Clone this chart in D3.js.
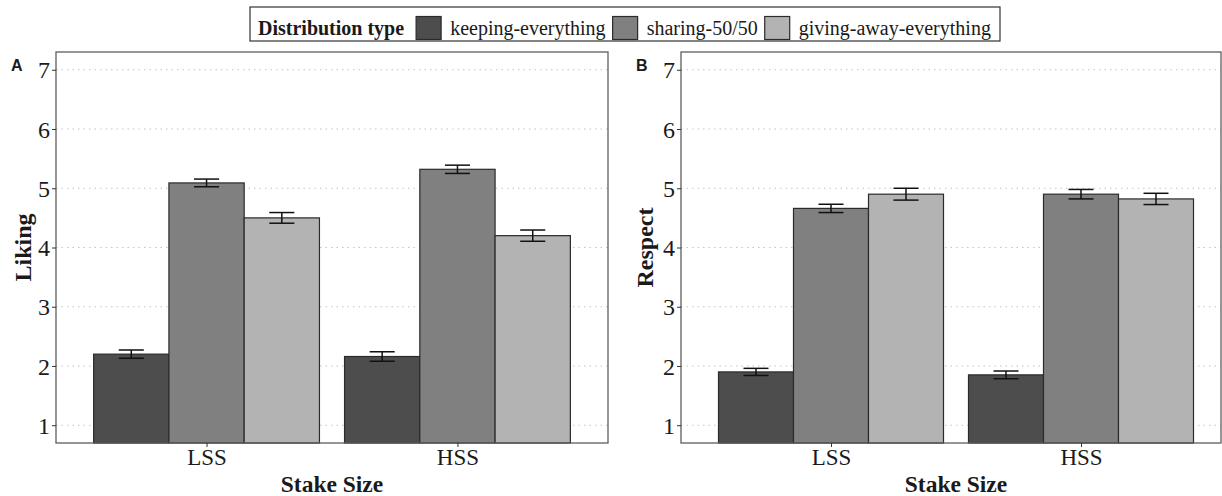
<!DOCTYPE html>
<html>
<head>
<meta charset="utf-8">
<script src="https://cdn.jsdelivr.net/npm/d3@7"></script>
<style>
  body { margin: 0; background: #fff; }
  svg { display: block; }
  text { fill: #1a1a1a; }
</style>
</head>
<body>
<svg id="chart" width="1222" height="496"></svg>
<script>
// Stake-size conditions and distribution types
const stakes = ["LSS", "HSS"];
const types = ["keeping-everything", "sharing-50/50", "giving-away-everything"];
const typeColors = ["#4d4d4d", "#808080", "#b3b3b3"];
const yTicks = [1, 2, 3, 4, 5, 6, 7];

// Liking means and standard errors (rows: LSS, HSS; columns: distribution type)
const likingMean = [[2.20, 5.09, 4.50], [2.16, 5.32, 4.20]];
const likingSE   = [[0.07, 0.065, 0.09], [0.08, 0.07, 0.095]];

// Respect means and standard errors
const respectMean = [[1.90, 4.66, 4.90], [1.85, 4.90, 4.82]];
const respectSE   = [[0.06, 0.07, 0.10], [0.065, 0.08, 0.095]];

const SERIF = "'Liberation Serif', 'Times New Roman', serif";
const SANS = "'Liberation Sans', Arial, sans-serif";

const svg = d3.select("#chart");

function panel(opts) {
  const { left, right, frameRight, top, bottom, means, ses, yTitle, tag, titleX, tagX } = opts;
  const g = svg.append("g");

  const y = d3.scaleLinear().domain([0.7, 7.3]).range([bottom, top]);
  // discrete positions 1 and 2, expanded by 0.6 on each side
  const xc = d3.scaleLinear().domain([0.4, 2.6]).range([left, right]);
  const unit = xc(2) - xc(1);
  const groupW = 0.9 * unit;
  const xi = d3.scaleBand().domain(types).range([-groupW / 2, groupW / 2]).padding(0);

  // gridlines
  g.selectAll("line.grid").data(yTicks).join("line")
    .attr("x1", left).attr("x2", frameRight)
    .attr("y1", d => y(d)).attr("y2", d => y(d))
    .attr("stroke", "#c4c4c4").attr("stroke-width", 1.1)
    .attr("stroke-dasharray", "1.5,4");

  const cells = [];
  stakes.forEach((s, i) => types.forEach((t, j) => cells.push({
    s, t, j, cx: xc(i + 1), m: means[i][j], se: ses[i][j]
  })));

  // bars
  g.selectAll("rect.bar").data(cells).join("rect")
    .attr("x", d => d.cx + xi(d.t))
    .attr("width", xi.bandwidth())
    .attr("y", d => y(d.m))
    .attr("height", d => bottom - y(d.m))
    .attr("fill", d => typeColors[d.j])
    .attr("stroke", "#2b2b2b").attr("stroke-width", 1.2);

  // error bars (mean ± SE)
  const capHalf = xi.bandwidth() / 6;
  const mid = d => d.cx + xi(d.t) + xi.bandwidth() / 2;
  const eb = g.selectAll("g.eb").data(cells).join("g")
    .attr("stroke", "#111").attr("stroke-width", 1.5);
  eb.append("line")
    .attr("x1", mid).attr("x2", mid)
    .attr("y1", d => y(d.m + d.se)).attr("y2", d => y(d.m - d.se));
  eb.append("line")
    .attr("x1", d => mid(d) - capHalf).attr("x2", d => mid(d) + capHalf)
    .attr("y1", d => y(d.m + d.se)).attr("y2", d => y(d.m + d.se));
  eb.append("line")
    .attr("x1", d => mid(d) - capHalf).attr("x2", d => mid(d) + capHalf)
    .attr("y1", d => y(d.m - d.se)).attr("y2", d => y(d.m - d.se));

  // panel border
  g.append("rect")
    .attr("x", left).attr("y", top)
    .attr("width", frameRight - left).attr("height", bottom - top)
    .attr("fill", "none").attr("stroke", "#5e5e5e").attr("stroke-width", 1.3);

  // y axis
  const ya = g.append("g").attr("transform", `translate(${left},0)`)
    .call(d3.axisLeft(y).tickValues(yTicks).tickSize(4).tickPadding(2).tickFormat(d3.format("d")));
  ya.select(".domain").remove();
  ya.selectAll(".tick line").attr("stroke", "#333");
  ya.selectAll(".tick text").attr("font-size", 24).attr("fill", "#222")
    .attr("font-family", SERIF).attr("dy", "0.34em");

  // x axis
  const xa = g.append("g").attr("transform", `translate(0,${bottom})`)
    .call(d3.axisBottom(xc).tickValues([1, 2]).tickSize(4).tickPadding(2)
      .tickFormat(d => stakes[d - 1]));
  xa.select(".domain").remove();
  xa.selectAll(".tick line").attr("stroke", "#333");
  xa.selectAll(".tick text").attr("font-size", 23).attr("fill", "#222")
    .attr("font-family", SERIF);

  // axis titles
  g.append("text")
    .attr("x", (left + right) / 2).attr("y", 492)
    .attr("text-anchor", "middle")
    .attr("font-family", SERIF)
    .attr("font-size", 23.5).attr("font-weight", "bold")
    .text("Stake Size");
  g.append("text")
    .attr("transform", `translate(${titleX},${(top + bottom) / 2}) rotate(-90)`)
    .attr("text-anchor", "middle")
    .attr("font-family", SERIF)
    .attr("font-size", 24).attr("font-weight", "bold")
    .text(yTitle);

  // panel tag
  g.append("text")
    .attr("x", tagX).attr("y", 71)
    .attr("font-family", SANS)
    .attr("font-size", 16).attr("font-weight", "bold")
    .text(tag);
}

panel({ left: 56, right: 608, frameRight: 608, top: 52, bottom: 443, means: likingMean, ses: likingSE,
        yTitle: "Liking", tag: "A", titleX: 31, tagX: 11 });
// the right panel is trimmed at the page's right edge
panel({ left: 681, right: 1231, frameRight: 1221, top: 52, bottom: 443, means: respectMean, ses: respectSE,
        yTitle: "Respect", tag: "B", titleX: 653, tagX: 636 });

// legend
const leg = svg.append("g");
leg.append("rect")
  .attr("x", 250).attr("y", 7).attr("width", 750).attr("height", 34)
  .attr("fill", "#fff").attr("stroke", "#333").attr("stroke-width", 1.2);
const legTitle = leg.append("text")
  .attr("x", 258).attr("y", 35)
  .attr("font-family", SERIF)
  .attr("font-size", 20).attr("font-weight", "bold")
  .text("Distribution type");
let cursor = 258 + legTitle.node().getComputedTextLength() + 12;
types.forEach((t, j) => {
  leg.append("rect")
    .attr("x", cursor).attr("y", 16.5).attr("width", 25).attr("height", 23)
    .attr("fill", typeColors[j]).attr("stroke", "#2b2b2b").attr("stroke-width", 1.2);
  const lbl = leg.append("text")
    .attr("x", cursor + 34).attr("y", 35)
    .attr("font-family", SERIF)
    .attr("font-size", 20)
    .text(t);
  cursor += 34 + lbl.node().getComputedTextLength() + 7;
});
</script>
</body>
</html>
